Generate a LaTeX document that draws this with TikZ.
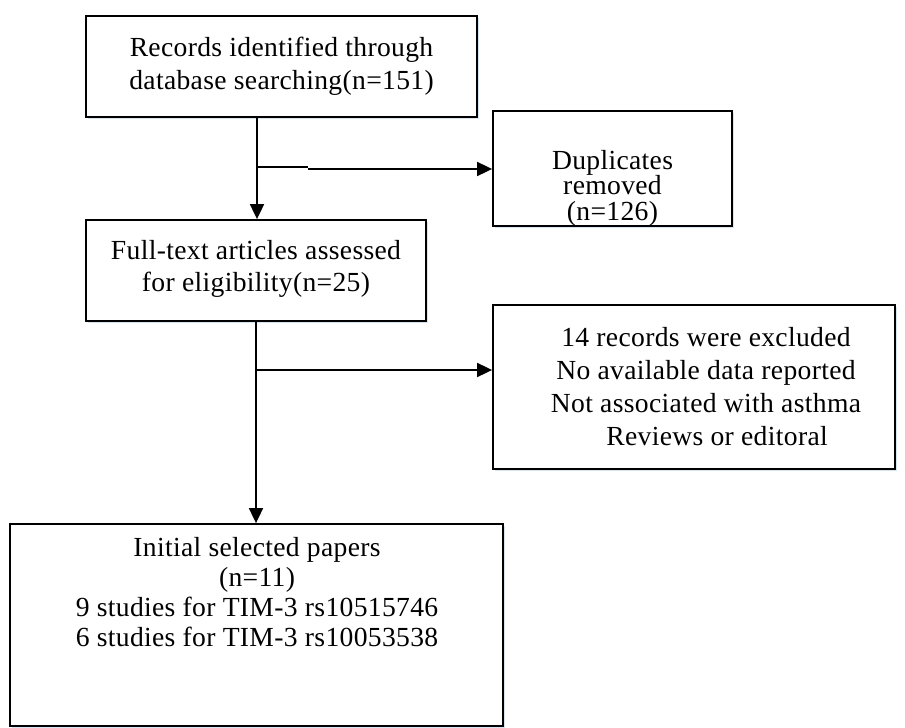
\documentclass[tikz,border=0pt]{standalone}
\usepackage{fontspec}
\setmainfont{Liberation Serif}[LetterSpace=1.2]
\usetikzlibrary{arrows.meta,fit,shadows}
\definecolor{shadowblue}{RGB}{205,222,240}
\tikzset{
  box/.style={draw=black, line width=0.9pt, fill=white, inner sep=0pt,
    drop shadow={shadow xshift=1.2pt, shadow yshift=-1.2pt, fill=shadowblue, opacity=0.8}},
  txt/.style={align=center, inner sep=0pt, font=\fontsize{13.8pt}{16.5pt}\selectfont},
  arr/.style={line width=0.9pt, -{Triangle[length=7.5pt,width=7pt]}},
  ln/.style={line width=0.9pt}
}
\begin{document}
\begin{tikzpicture}[x=0.5pt,y=-0.5pt]
\useasboundingbox (0,0) rectangle (905,728);
% boxes
\node[box, fit={(86,16) (477,117)}] (b1) {};
\node[box, fit={(493,111) (732,226)}] (b2) {};
\node[box, fit={(86,220) (426,321)}] (b3) {};
\node[box, fit={(493,305) (895,469)}] (b4) {};
\node[box, fit={(10,524) (503,726)}] (b5) {};
% texts
\node[txt] (t1) at (281.5,66.5) {Records identified through\\database searching(n=151)};
\node[txt, font=\fontsize{13.8pt}{12.8pt}\selectfont] (t2) at (612.5,188) {Duplicates\\removed\\(n=126)};
\node[txt, font=\fontsize{13.8pt}{16pt}\selectfont] (t3) at (256,269) {Full-text articles assessed\\for eligibility(n=25)};
\node[txt, font=\fontsize{13.8pt}{16.5pt}\selectfont] (t4) at (706,387) {14 records were excluded\\No available data reported\\Not associated with asthma\\\hspace{0.8em}Reviews or editoral};
\node[txt, font=\fontsize{13.8pt}{15pt}\selectfont] (t5) at (257,592) {Initial selected papers\\(n=11)\\9 studies for TIM-3 rs10515746\\6 studies for TIM-3 rs10053538};
% junctions
\coordinate (j1) at (257,167);
\coordinate (jm) at (308,167);
\coordinate (jm2) at (308,169);
\coordinate (j2) at (256,370);
% connectors
\draw[arr] (b1.south -| j1) -- (b3.north -| j1);
\draw[ln] (j1) -- (jm);
\draw[arr] (jm2) -- (jm2 -| b2.west);
\draw[arr] (b3.south -| j2) -- (b5.north -| j2);
\draw[arr] (j2) -- (j2 -| b4.west);
\end{tikzpicture}
\end{document}
